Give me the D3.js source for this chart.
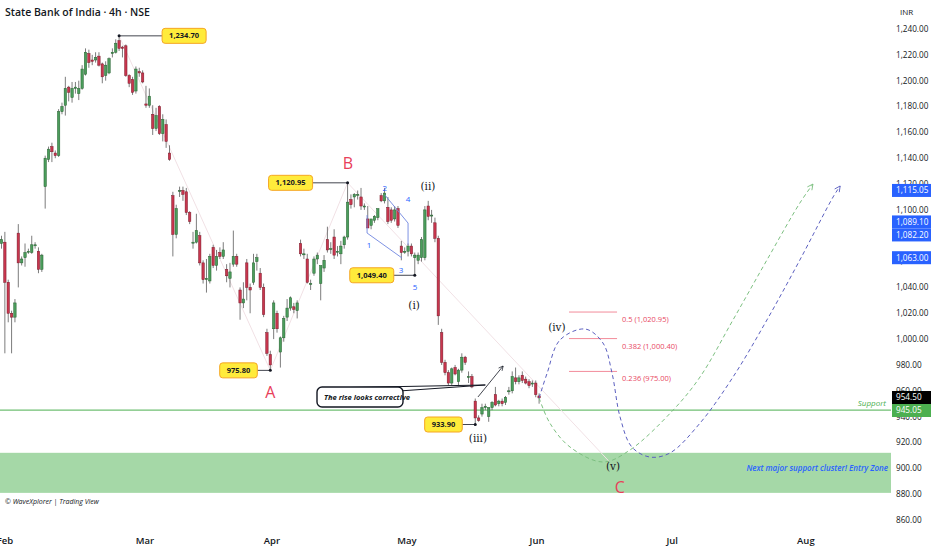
<!DOCTYPE html>
<html>
<head>
<meta charset="utf-8">
<script src="https://cdn.jsdelivr.net/npm/d3@7"></script>
<style>
  body { margin: 0; background: #fff; }
  svg { display: block; font-family: "Open Sans", sans-serif; }
</style>
</head>
<body>
<script>
// 4h candles
const opens = [1074,1075,1044,1020,1017,1082,1059,1063,1068,1067,1073,1068,1054,
  1118,1139,1149,1144,1142,1176,1181,1195,1187,1194,1190,1194,1205,1221,1216,1216,1219,1213,1204,1206,1221,1222,1231,1226,1227,1204,1201,1192,1207,1206,
  1182,1181,1174,1163,1180,1159,1166,1144,1111,1081,1115,1115,1114,1098,1075,1075,1080,1059,1046,1045,1071,1057,1067,1064,1054,1047,1058,1064,1038,1028,1059,1040,1044,1060,1051,1040,1005,988,
  1008,1020,990,1001,1017,1024,1025,1022,1074,1066,1062,1043,1051,1062,1043,1055,1077,1070,1079,1068,1066,1073,1079,
  1108,1110,1112,1110,1103,1093,1088,1092,1094,1111,1107,1102,1100,1093,1101,1072,1068,1068,1072,1063,1061,1063,1063,1103,1096,1090,1078,
  1005,982,974,966,978,967,976,986,971,971,952,939,942,947,940,947,957,950,952,951,960,960,970,967,972,969,967,966,966,956];
const highs = [1080,1083,1046,1022,1031,1089,1064,1074,1070,1080,1075,1071,1066,
  1142,1149,1152,1146,1178,1183,1203,1196,1199,1199,1200,1212,1225,1224,1220,1222,1222,1214,1215,1218,1225,1232,1234.7,1227,1228,1205,1203,1211,1210,1208,
  1196,1194,1181,1179,1181,1174,1170,1150,1114,1104,1118,1118,1117,1099,1083,1097,1083,1061,1062,1066,1073,1069,1071,1075,1058,1059,1084,1066,1040,1044,1062,1043,1066,1066,1055,1043,1008,991,
  1030,1022,1002,1018,1031,1033,1028,1030,1077,1070,1066,1046,1064,1067,1056,1065,1087,1075,1085,1072,1076,1080,1120.95,
  1112,1113,1115,1117,1105,1103,1092,1096,1101,1113,1117,1110,1102,1103,1103,1076,1071,1074,1074,1067,1067,1079,1103,1107,1100,1094,1080,
  1008,984,976,978,980,977,989,987,975,973,954,941,950,950,947,952,963,953,954,956,963,975,978,972,975,971,969,968,968,958];
const lows = [1070,989,1013,989,1013,1040,1057,1056,1066,1066,1070,1051,1052,
  1101,1137,1137,1140,1141,1174,1173,1184,1183,1190,1185,1193,1204,1210,1212,1214,1211,1198,1200,1205,1218,1221,1223,1218,1203,1195,1189,1190,1203,1198,
  1179,1179,1158,1161,1158,1153,1148,1138,1064,1078,1110,1107,1096,1089,1070,1074,1057,1043,1036,1043,1055,1053,1062,1062,1044,1040,1056,1056,1015,1024,1030,1020,1042,1053,1038,1017,987,975.8,
  1000,1005,978,998,1014,1022,1020,1016,1064,1062,1043,1038,1049,1058,1030,1052,1067,1066,1062,1064,1058,1070,1077,
  1101,1102,1108,1100,1100,1086,1085,1090,1092,1106,1105,1089,1090,1091,1086,1061,1066,1064,1064,1049.4,1058,1060,1061,1092,1090,1075,1011,
  980,972,964,964,972,963,974,980,966,962,933.9,936,940,945,936,945,948,948,948,949,957,958,965,965,966,965,962,963,955,950];
const closes = [1077,1044,1020,1017,1028,1059,1062,1067,1068,1073,1073,1054,1065,
  1140,1147,1145,1142,1176,1180,1194,1191,1194,1195,1194,1209,1222,1214,1215,1218,1212,1203,1212,1217,1222,1229,1225,1225,1204,1198,1191,1209,1206,1199,
  1181,1188,1163,1173,1159,1170,1153,1139,1081,1101,1115,1112,1098,1091,1075,1084,1059,1046,1047,1064,1057,1064,1064,1069,1049,1052,1064,1058,1028,1031,1040,1038,1059,1063,1040,1019,989,980,
  1028,1008,1001,1016,1024,1032,1023,1028,1066,1066,1044,1043,1062,1065,1057,1061,1069,1070,1065,1068,1072,1079,1106,
  1104,1112,1112,1103,1103,1086,1093,1095,1101,1107,1113,1091,1092,1100,1088,1067,1068,1072,1066,1065,1065,1077,1100,1095,1096,1078,1018,
  982,974,966,977,973,976,986,982,971,963,939,937,947,948,947,951,949,952,950,955,960,971,967,970,968,966,964,966,957,954.5];

const monthLabels = ["Feb", "Mar", "Apr", "May", "Jun", "Jul", "Aug"];
const monthBars = [1, 42.7, 80.5, 120.7, 159.4, 199.6, 239.4];
const yTicks = d3.range(860, 1241, 20);

const tagPrices = [1115.05, 1089.10, 1082.20, 1063.00, 954.50, 945.05];
const tagKinds = ["level", "level", "level", "level", "last", "support"];

const fibRatios = [0.5, 0.382, 0.236];
const fibPrices = [1020.95, 1000.40, 975.00];

const supportPrice = 945.05;
const zonePrices = [912, 881];

const pivotBars = [35, 103, 123, 80, 141];
const pivotPrices = [1234.70, 1120.95, 1049.40, 975.80, 933.90];

const waveLetters = ["A", "B", "C"];
const waveLetterBars = [80, 103.1, 184];
const waveLetterPrices = [959, 1136.3, 885.5];

const degreeLabels = ["(i)", "(ii)", "(iii)", "(iv)", "(v)"];
const degreeBars = [122.8, 126.9, 141.8, 165.3, 182];
const degreePrices = [1026.4, 1118.5, 923.4, 1009.3, 901.8];

const subLabels = ["1", "2", "3", "4", "5"];
const subBars = [109.4, 114.1, 118.9, 121, 123.1];
const subPrices = [1073, 1117, 1053.5, 1108.4, 1040.3];

// projected paths (bar index, price)
const pathIvBars   = [160, 162.4, 166.2, 173.7, 179, 181.7, 184.1, 187.6, 193, 198.9, 207.9, 217.7, 227.8, 237.6, 247.5, 249.6];
const pathIvPrices = [954.5, 973.7, 999.3, 1007.8, 997, 973.7, 939.7, 916.5, 908.7, 911.8, 935, 970.6, 1014.8, 1061.2, 1110, 1118.5];
const pathVBars    = [160, 163.2, 169.2, 179, 187, 199.9, 207.9, 217.7, 227.8, 237.6, 241.5];
const pathVPrices  = [954.5, 935, 916.5, 904.9, 914.1, 945.1, 970.7, 1014.8, 1061.2, 1105.3, 1120];

const width = 932, height = 550;
const plotRight = 891;

const x = d3.scaleLinear().domain([0, 265]).range([1.5, 1.5 + 265 * 3.36]);
const y = d3.scaleLinear().domain([860, 1240]).range([520, 29]);

const svg = d3.select("body").append("svg")
    .attr("width", width)
    .attr("height", height);

const defs = svg.append("defs");
defs.append("clipPath").attr("id", "plot")
  .append("rect").attr("x", 0).attr("y", 0).attr("width", plotRight).attr("height", 530);

function arrowMarker(id, color) {
  defs.append("marker").attr("id", id)
    .attr("viewBox", "0 0 10 10").attr("refX", 9).attr("refY", 5)
    .attr("markerWidth", 7).attr("markerHeight", 7).attr("orient", "auto")
    .append("path").attr("d", "M1,1 L9,5 L1,9")
    .attr("fill", "none").attr("stroke", color).attr("stroke-width", 1.2);
}
arrowMarker("arrNavy", "#5b5fc0");
arrowMarker("arrGreen", "#7cbf80");
arrowMarker("arrBlack", "#131722");

const plot = svg.append("g").attr("clip-path", "url(#plot)");

// entry zone
plot.append("rect")
  .attr("x", 0).attr("width", plotRight)
  .attr("y", y(zonePrices[0])).attr("height", y(zonePrices[1]) - y(zonePrices[0]))
  .attr("fill", "#a5d8a7");

// support line
plot.append("line")
  .attr("x1", 0).attr("x2", plotRight)
  .attr("y1", y(supportPrice)).attr("y2", y(supportPrice))
  .attr("stroke", "#4caf50").attr("stroke-width", 1);

plot.append("text").attr("x", 886).attr("y", y(supportPrice) - 4)
  .attr("text-anchor", "end").attr("font-size", 8).attr("font-style", "italic")
  .attr("fill", "#4caf50").text("Support");

plot.append("text").attr("x", 888).attr("y", y(900) + 3)
  .attr("text-anchor", "end").attr("font-size", 8).attr("font-style", "italic")
  .attr("font-weight", 600).attr("fill", "#2962ff")
  .text("Next major support cluster! Entry Zone");

// faint ABC connectors
const abcLine = d3.line().x(d => x(d[0])).y(d => y(d[1]));
plot.append("path")
  .attr("d", abcLine([[pivotBars[0], pivotPrices[0]], [pivotBars[3], pivotPrices[3]], [pivotBars[1], pivotPrices[1]], [181, 904.9]]))
  .attr("fill", "none").attr("stroke", "#f1e1e5").attr("stroke-width", 1);

// candles
const candles = opens.map((o, i) => ({ i, o, h: highs[i], l: lows[i], c: closes[i] }));
const cg = plot.append("g");
cg.selectAll("line.wick").data(candles).enter().append("line")
  .attr("x1", d => x(d.i)).attr("x2", d => x(d.i))
  .attr("y1", d => y(d.h)).attr("y2", d => y(d.l))
  .attr("stroke", "#5a5a5a").attr("stroke-width", 0.8);
cg.selectAll("rect.body").data(candles).enter().append("rect")
  .attr("x", d => x(d.i) - 1.2)
  .attr("width", 2.4)
  .attr("y", d => y(Math.max(d.o, d.c)))
  .attr("height", d => Math.max(1, Math.abs(y(d.o) - y(d.c))))
  .attr("fill", d => d.c >= d.o ? "#4b9d5c" : "#c8364e")
  .attr("stroke", d => d.c >= d.o ? "#26602f" : "#7a1a2a")
  .attr("stroke-width", 0.5);

// sub-wave guide lines
const subA = [[108.8, 1096], [108.8, 1082.1], [119.2, 1062.8]];
const subB = [[114.1, 1111.5], [121, 1089.8], [121, 1072.8]];
[subA, subB].forEach(pts => {
  plot.append("path").attr("d", abcLine(pts))
    .attr("fill", "none").attr("stroke", "#6f86e0").attr("stroke-width", 0.9);
});

plot.selectAll("text.sub").data(subLabels).enter().append("text")
  .attr("x", (d, i) => x(subBars[i])).attr("y", (d, i) => y(subPrices[i]))
  .attr("dy", "0.35em").attr("text-anchor", "middle")
  .attr("font-size", 8).attr("fill", "#2962ff").text(d => d);

// fib levels
fibPrices.forEach((p, k) => {
  plot.append("line")
    .attr("x1", x(168.9)).attr("x2", x(183.2))
    .attr("y1", y(p)).attr("y2", y(p))
    .attr("stroke", "#f28b9a").attr("stroke-width", 1);
  plot.append("text")
    .attr("x", x(184.7)).attr("y", y(p) + 10)
    .attr("font-size", 7.5).attr("fill", "#e8485f")
    .text(`${fibRatios[k]} (${d3.format(",.2f")(p)})`);
});

// projections
const curve = d3.line().x(d => x(d[0])).y(d => y(d[1])).curve(d3.curveCatmullRom.alpha(0.5));
plot.append("path")
  .attr("d", curve(pathVBars.map((b, i) => [b, pathVPrices[i]])))
  .attr("fill", "none").attr("stroke", "#7cbf80").attr("stroke-width", 1)
  .attr("stroke-dasharray", "4,3").attr("marker-end", "url(#arrGreen)");
plot.append("path")
  .attr("d", curve(pathIvBars.map((b, i) => [b, pathIvPrices[i]])))
  .attr("fill", "none").attr("stroke", "#5b5fc0").attr("stroke-width", 1)
  .attr("stroke-dasharray", "4,3").attr("marker-end", "url(#arrNavy)");

// callout
const tip = [144, 964.5];
const cx0 = 317, cy0 = 387, cw = 86, ch = 20;
plot.append("path")
  .attr("d", `M${cx0 + 6},${cy0 + 1} L${x(tip[0])},${y(tip[1])} L${cx0 + cw - 4},${cy0 + 4} Z`)
  .attr("fill", "#fff").attr("stroke", "#131722").attr("stroke-width", 1);
plot.append("rect")
  .attr("x", cx0).attr("y", cy0).attr("width", cw).attr("height", ch).attr("rx", 5)
  .attr("fill", "#fff").attr("stroke", "#131722").attr("stroke-width", 1.4);
plot.append("text").attr("x", cx0 + 7).attr("y", cy0 + ch / 2).attr("dy", "0.35em")
  .attr("font-size", 7.5).attr("font-style", "italic").attr("font-weight", 700)
  .attr("fill", "#131722").text("The rise looks corrective");

plot.append("line")
  .attr("x1", x(141.8)).attr("y1", y(955.2))
  .attr("x2", x(149.3)).attr("y2", y(979.2))
  .attr("stroke", "#131722").attr("stroke-width", 0.8)
  .attr("marker-end", "url(#arrBlack)");

// pivot price tags
const pivotGap = [43, -35, -21, -13, -13];
const fmt = d3.format(",.2f");
pivotBars.forEach((b, k) => {
  const px = x(b), py = y(pivotPrices[k]);
  const g = plot.append("g");
  const t = g.append("text").attr("font-size", 7.5).attr("font-weight", 700)
    .attr("fill", "#131722").attr("dy", "0.35em").attr("y", py).text(fmt(pivotPrices[k]));
  const tw = t.node().getComputedTextLength();
  const bw = tw + 14, bh = 15;
  const bx = pivotGap[k] > 0 ? px + pivotGap[k] : px + pivotGap[k] - bw;
  const lineEnd = pivotGap[k] > 0 ? bx : bx + bw;
  g.insert("line", "text").attr("x1", px).attr("x2", lineEnd).attr("y1", py).attr("y2", py)
    .attr("stroke", "#131722").attr("stroke-width", 0.8);
  g.insert("rect", "text").attr("x", bx).attr("y", py - bh / 2).attr("width", bw).attr("height", bh)
    .attr("rx", 3).attr("fill", "#ffeb3b").attr("stroke", "#f5a623").attr("stroke-width", 1);
  t.attr("x", bx + 7);
  g.append("circle").attr("cx", px).attr("cy", py).attr("r", 1.5).attr("fill", "#131722");
});

// wave labels
plot.selectAll("text.wave").data(waveLetters).enter().append("text")
  .attr("x", (d, i) => x(waveLetterBars[i])).attr("y", (d, i) => y(waveLetterPrices[i]))
  .attr("dy", "0.35em").attr("text-anchor", "middle")
  .attr("font-size", 16).attr("fill", "#e8405a").text(d => d);

plot.selectAll("text.deg").data(degreeLabels).enter().append("text")
  .attr("x", (d, i) => x(degreeBars[i])).attr("y", (d, i) => y(degreePrices[i]))
  .attr("dy", "0.35em").attr("text-anchor", "middle")
  .attr("font-family", "'DejaVu Serif', serif").attr("font-size", 10.5)
  .attr("fill", "#131722").text(d => d);

// title and credits
svg.append("text").attr("x", 5).attr("y", 16).attr("font-size", 10.5).attr("font-weight", 600)
  .attr("fill", "#131722").text("State Bank of India · 4h · NSE");
svg.append("text").attr("x", 5).attr("y", 504).attr("font-size", 7).attr("font-style", "italic")
  .attr("fill", "#131722").text("© WaveXplorer  |  Trading View");

// price axis
const axisG = svg.append("g");
axisG.append("text").attr("x", 900).attr("y", 15).attr("font-size", 8).attr("fill", "#131722").text("INR");
axisG.selectAll("text.tick").data(yTicks).enter().append("text")
  .attr("x", 896).attr("y", d => y(d)).attr("dy", "0.35em")
  .attr("font-size", 8.2).attr("fill", "#131722").text(d => fmt(d));

// right-side tags with simple collision push
const tagColors = { level: "#2962ff", last: "#000000", support: "#4caf50" };
const tags = tagPrices.map((p, k) => ({ p, kind: tagKinds[k], cy: y(p) })).sort((a, b) => a.cy - b.cy);
const th = 13;
for (let k = 1; k < tags.length; k++) {
  if (tags[k].cy - tags[k - 1].cy < th) {
    const mid = (tags[k].cy + tags[k - 1].cy) / 2;
    tags[k - 1].cy = mid - th / 2;
    tags[k].cy = mid + th / 2;
  }
}
tags.forEach(t => {
  axisG.append("rect").attr("x", 892).attr("y", t.cy - th / 2).attr("width", 39).attr("height", th)
    .attr("fill", tagColors[t.kind]);
  axisG.append("text").attr("x", 896).attr("y", t.cy).attr("dy", "0.35em")
    .attr("font-size", 8.2).attr("fill", "#fff").text(fmt(t.p));
});

// time axis
svg.selectAll("text.month").data(monthLabels).enter().append("text")
  .attr("x", (d, i) => x(monthBars[i])).attr("y", 544)
  .attr("text-anchor", "middle").attr("font-size", 9.5).attr("font-weight", 600)
  .attr("fill", "#131722").text(d => d);
</script>
</body>
</html>
